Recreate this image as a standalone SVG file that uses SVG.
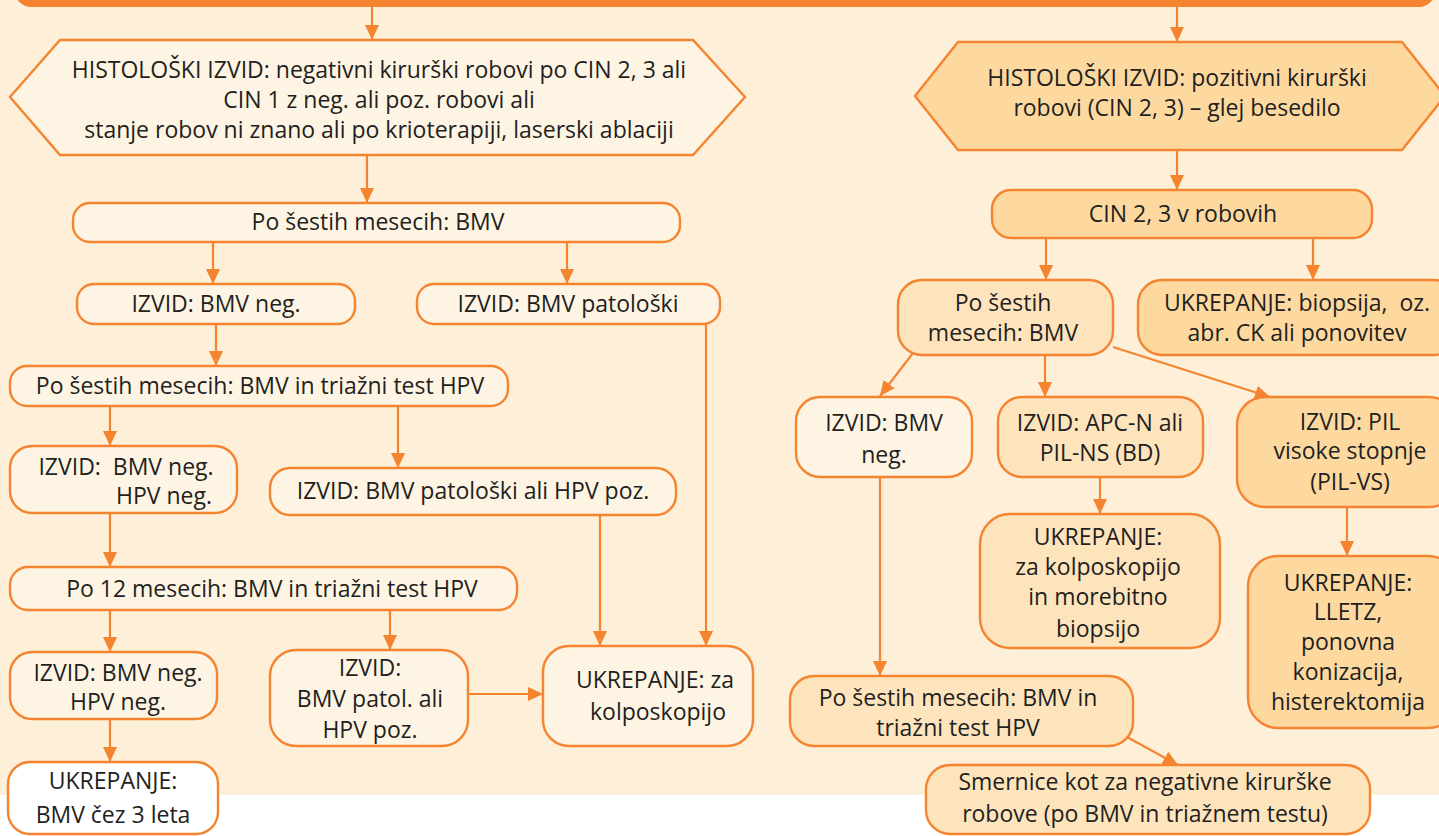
<svg xmlns="http://www.w3.org/2000/svg" width="1439" height="836" viewBox="0 0 1439 836">
  <style>
    .bg { fill: #fdefd8; }
    .box { stroke: #f4842f; stroke-width: 2.4; }
    .c0 { fill: #fef4e3; }
    .c1 { fill: #fee4bd; }
    .c2 { fill: #fdd9a0; }
    .cw { fill: #ffffff; }
    .t { font-family: "Open Sans", "Noto Sans", sans-serif; font-size: 23px; fill: #231f20; text-anchor: middle; }
    .arr { stroke: #f4842f; stroke-width: 2.2; fill: none; marker-end: url(#ah); }
  </style>
  <defs>
    <marker id="ah" markerUnits="userSpaceOnUse" markerWidth="16" markerHeight="14" refX="15" refY="7" orient="auto">
      <path d="M0,0 L15,7 L0,14 Z" fill="#f4842f"/>
    </marker>
  </defs>

  <!-- page background -->
  <rect class="bg" x="0" y="0" width="1439" height="795"/>
  <rect x="0" y="795" width="1439" height="41" fill="#ffffff"/>

  <!-- header bar (continues above the visible area) -->
  <rect x="15" y="-40" width="1420" height="47" rx="16" fill="#f4842f"/>

  <!-- connectors -->
  <g id="connectors">
    <line class="arr" x1="372" y1="7" x2="372" y2="40"/>
    <line class="arr" x1="1177" y1="7" x2="1177" y2="42"/>

    <line class="arr" x1="367" y1="155" x2="367" y2="203"/>
    <line class="arr" x1="213" y1="242" x2="213" y2="284"/>
    <line class="arr" x1="567" y1="242" x2="567" y2="284"/>
    <line class="arr" x1="216" y1="324" x2="216" y2="366"/>
    <line class="arr" x1="110" y1="406" x2="110" y2="446"/>
    <line class="arr" x1="398" y1="406" x2="398" y2="468"/>
    <line class="arr" x1="110" y1="513" x2="110" y2="567"/>
    <line class="arr" x1="110" y1="610" x2="110" y2="652"/>
    <line class="arr" x1="390" y1="610" x2="390" y2="650"/>
    <line class="arr" x1="110" y1="719" x2="110" y2="762"/>
    <line class="arr" x1="706" y1="324" x2="706" y2="646"/>
    <line class="arr" x1="600" y1="515" x2="600" y2="646"/>
    <line class="arr" x1="468" y1="694" x2="543" y2="694"/>

    <line class="arr" x1="1177" y1="150" x2="1177" y2="190"/>
    <line class="arr" x1="1046" y1="238" x2="1046" y2="280"/>
    <line class="arr" x1="1313" y1="238" x2="1313" y2="280"/>
    <line class="arr" x1="913" y1="353" x2="880" y2="396"/>
    <line class="arr" x1="1045" y1="355" x2="1045" y2="397"/>
    <line class="arr" x1="1113" y1="347" x2="1270" y2="397"/>
    <line class="arr" x1="1100" y1="477" x2="1100" y2="514"/>
    <line class="arr" x1="1347" y1="507" x2="1347" y2="556"/>
    <line class="arr" x1="880" y1="477" x2="880" y2="676"/>
    <line class="arr" x1="1127" y1="737" x2="1178" y2="765"/>
  </g>

  <!-- left branch -->
  <g id="hist-neg">
    <polygon class="box c0" points="60,40 693,40 745,97 693,155 60,155 10,97"/>
    <text class="t" x="379" y="78">HISTOLOŠKI IZVID: negativni kirurški robovi po CIN 2, 3 ali</text>
    <text class="t" x="379" y="108">CIN 1 z neg. ali poz. robovi ali</text>
    <text class="t" x="379" y="138">stanje robov ni znano ali po krioterapiji, laserski ablaciji</text>
  </g>
  <g id="l-6m-bmv">
    <rect class="box c0" x="73" y="203" width="607" height="39" rx="17"/>
    <text class="t" x="378" y="230">Po šestih mesecih: BMV</text>
  </g>
  <g id="l-bmv-neg">
    <rect class="box c0" x="77" y="284" width="278" height="40" rx="17"/>
    <text class="t" x="216" y="312">IZVID: BMV neg.</text>
  </g>
  <g id="l-bmv-pat">
    <rect class="box c0" x="417" y="284" width="303" height="40" rx="17"/>
    <text class="t" x="568" y="312">IZVID: BMV patološki</text>
  </g>
  <g id="l-6m-hpv">
    <rect class="box c0" x="10" y="366" width="498" height="40" rx="17"/>
    <text class="t" x="260" y="394">Po šestih mesecih: BMV in triažni test HPV</text>
  </g>
  <g id="l-neg-1">
    <rect class="box c0" x="10" y="446" width="227" height="67" rx="22"/>
    <text class="t" x="126" y="475">IZVID:&#160; BMV neg.</text>
    <text class="t" x="164" y="504">HPV neg.</text>
  </g>
  <g id="l-pat-1">
    <rect class="box c0" x="270" y="468" width="406" height="47" rx="20"/>
    <text class="t" x="473" y="499">IZVID: BMV patološki ali HPV poz.</text>
  </g>
  <g id="l-12m-hpv">
    <rect class="box c0" x="10" y="567" width="507" height="43" rx="18"/>
    <text class="t" x="272" y="597">Po 12 mesecih: BMV in triažni test HPV</text>
  </g>
  <g id="l-neg-2">
    <rect class="box c0" x="10" y="652" width="207" height="67" rx="22"/>
    <text class="t" x="118" y="681">IZVID: BMV neg.</text>
    <text class="t" x="118" y="710">HPV neg.</text>
  </g>
  <g id="l-pat-2">
    <rect class="box c0" x="270" y="650" width="198" height="96" rx="26"/>
    <text class="t" x="370" y="676">IZVID:</text>
    <text class="t" x="370" y="707">BMV patol. ali</text>
    <text class="t" x="370" y="738">HPV poz.</text>
  </g>
  <g id="l-kolpo">
    <rect class="box c0" x="543" y="646" width="210" height="100" rx="26"/>
    <text class="t" x="655" y="688">UKREPANJE: za</text>
    <text class="t" x="658" y="720">kolposkopijo</text>
  </g>
  <g id="l-3y">
    <rect class="box cw" x="8" y="762" width="210" height="72" rx="22"/>
    <text class="t" x="113" y="789">UKREPANJE:</text>
    <text class="t" x="113" y="823">BMV čez 3 leta</text>
  </g>

  <!-- right branch -->
  <g id="hist-pos">
    <polygon class="box c2" points="958,42 1402,42 1445,96 1402,150 958,150 915,96"/>
    <text class="t" x="1177" y="86">HISTOLOŠKI IZVID: pozitivni kirurški</text>
    <text class="t" x="1177" y="116">robovi (CIN 2, 3) – glej besedilo</text>
  </g>
  <g id="r-cin">
    <rect class="box c2" x="992" y="190" width="380" height="48" rx="19"/>
    <text class="t" x="1183" y="222">CIN 2, 3 v robovih</text>
  </g>
  <g id="r-6m-bmv">
    <rect class="box c1" x="898" y="280" width="215" height="75" rx="24"/>
    <text class="t" x="1003" y="311">Po šestih</text>
    <text class="t" x="1003" y="341">mesecih: BMV</text>
  </g>
  <g id="r-biopsy">
    <rect class="box c2" x="1138" y="280" width="320" height="75" rx="24"/>
    <text class="t" x="1297" y="311">UKREPANJE: biopsija,&#160; oz.</text>
    <text class="t" x="1297" y="341">abr. CK ali ponovitev</text>
  </g>
  <g id="r-bmv-neg">
    <rect class="box c0" x="796" y="397" width="176" height="80" rx="24"/>
    <text class="t" x="884" y="431">IZVID: BMV</text>
    <text class="t" x="884" y="463">neg.</text>
  </g>
  <g id="r-apc">
    <rect class="box c1" x="998" y="397" width="205" height="80" rx="24"/>
    <text class="t" x="1100" y="431">IZVID: APC-N ali</text>
    <text class="t" x="1100" y="461">PIL-NS (BD)</text>
  </g>
  <g id="r-pil-vs">
    <rect class="box c2" x="1237" y="397" width="220" height="110" rx="28"/>
    <text class="t" x="1350" y="430">IZVID: PIL</text>
    <text class="t" x="1350" y="459">visoke stopnje</text>
    <text class="t" x="1350" y="490">(PIL-VS)</text>
  </g>
  <g id="r-kolpo">
    <rect class="box c1" x="980" y="514" width="240" height="134" rx="30"/>
    <text class="t" x="1098" y="545">UKREPANJE:</text>
    <text class="t" x="1098" y="575">za kolposkopijo</text>
    <text class="t" x="1098" y="605">in morebitno</text>
    <text class="t" x="1098" y="637">biopsijo</text>
  </g>
  <g id="r-lletz">
    <rect class="box c2" x="1248" y="556" width="210" height="172" rx="30"/>
    <text class="t" x="1348" y="591">UKREPANJE:</text>
    <text class="t" x="1348" y="620">LLETZ,</text>
    <text class="t" x="1348" y="650">ponovna</text>
    <text class="t" x="1348" y="680">konizacija,</text>
    <text class="t" x="1348" y="710">histerektomija</text>
  </g>
  <g id="r-6m-hpv">
    <rect class="box c1" x="790" y="676" width="343" height="70" rx="24"/>
    <text class="t" x="958" y="706">Po šestih mesecih: BMV in</text>
    <text class="t" x="958" y="736">triažni test HPV</text>
  </g>
  <g id="r-guide">
    <rect class="box c1" x="926" y="765" width="444" height="69" rx="24"/>
    <text class="t" x="1145" y="790">Smernice kot za negativne kirurške</text>
    <text class="t" x="1145" y="822">robove (po BMV in triažnem testu)</text>
  </g>
</svg>
